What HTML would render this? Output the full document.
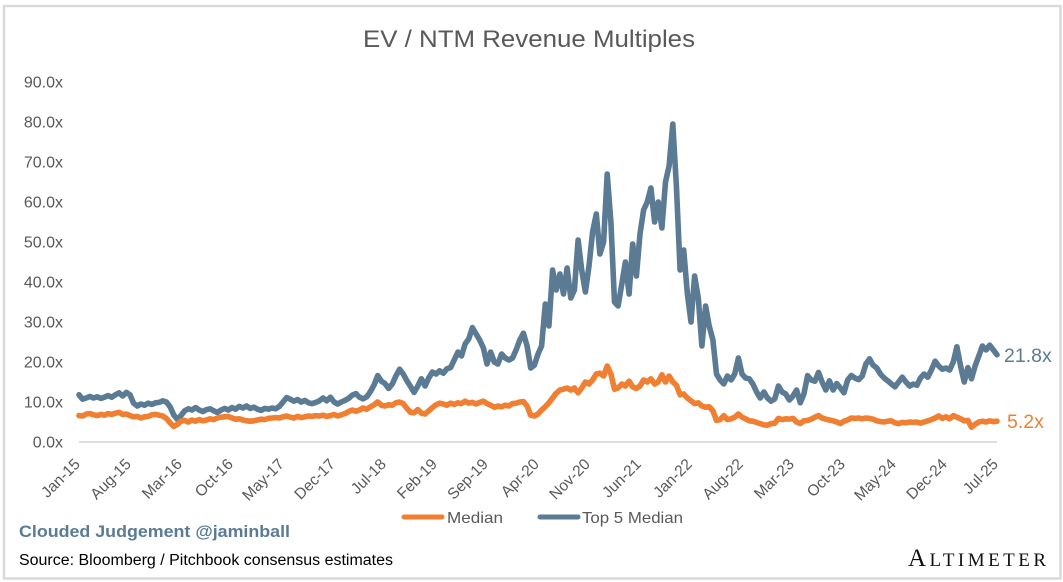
<!DOCTYPE html>
<html lang="en">
<head>
<meta charset="utf-8">
<title>EV / NTM Revenue Multiples</title>
<style>
html,body{margin:0;padding:0;background:#fff;width:1063px;height:582px;overflow:hidden}
svg{display:block}
text{font-family:"Liberation Sans",sans-serif}
</style>
</head>
<body>
<svg id="chart" xmlns="http://www.w3.org/2000/svg" width="1063" height="582" viewBox="0 0 1063 582">
  <rect x="4" y="6" width="1056.5" height="572.5" fill="#fff" stroke="#d9d9d9" stroke-width="2.4"/>
  <text x="529" y="47" text-anchor="middle" font-size="24" fill="#595959" textLength="332" lengthAdjust="spacingAndGlyphs">EV / NTM Revenue Multiples</text>
  <g id="y-axis"></g>
  <g id="x-axis"></g>
  <g id="series"></g>
  <g>
    <g>
      <line x1="404" y1="517" x2="442" y2="517" stroke="#f07f31" stroke-width="5" stroke-linecap="round"/>
      <text x="447" y="523" font-size="16" fill="#595959" textLength="56" lengthAdjust="spacingAndGlyphs">Median</text>
    </g>
    <g>
      <line x1="540" y1="517" x2="578" y2="517" stroke="#5b7b95" stroke-width="5" stroke-linecap="round"/>
      <text x="582" y="523" font-size="16" fill="#595959" textLength="101" lengthAdjust="spacingAndGlyphs">Top 5 Median</text>
    </g>
  </g>
  <text x="19" y="537" font-size="16.5" font-weight="bold" fill="#5b7b95" textLength="271" lengthAdjust="spacingAndGlyphs">Clouded Judgement @jaminball</text>
  <text x="19" y="565" font-size="15.5" fill="#000" textLength="374" lengthAdjust="spacingAndGlyphs">Source: Bloomberg / Pitchbook consensus estimates</text>
  <text x="908" y="566" fill="#111" textLength="138" lengthAdjust="spacing" style="font-family:'Liberation Serif',serif"><tspan font-size="25">A</tspan><tspan font-size="19">LTIMETER</tspan></text>
</svg>
<script>
// Axis tick labels
const yTickValues = [0, 10, 20, 30, 40, 50, 60, 70, 80, 90];
const xTickLabels = ["Jan-15","Aug-15","Mar-16","Oct-16","May-17","Dec-17","Jul-18","Feb-19","Sep-19","Apr-20","Nov-20","Jun-21","Jan-22","Aug-22","Mar-23","Oct-23","May-24","Dec-24","Jul-25"];
const samplesPerTick = 14; // semi-monthly samples, one tick every 7 months

// Semi-monthly samples, Jan-15 to Jul-25
const medianValues = [
/*2015*/ 6.6,6.5,7.0,7.1,6.8,6.6,6.9,6.7,7.1,6.9,7.2,7.4,6.9,7.0,6.6,6.3,6.4,6.0,6.3,6.4,6.8,6.9,6.7,6.5,
/*2016*/ 5.9,4.8,3.9,4.4,5.2,5.4,5.0,5.5,5.2,5.6,5.3,5.5,5.8,5.6,6.0,6.2,6.3,6.4,6.0,5.7,5.8,5.5,5.3,5.2,
/*2017*/ 5.3,5.5,5.7,5.6,5.9,6.0,6.1,6.0,6.3,6.5,6.2,6.0,6.4,6.1,6.3,6.5,6.4,6.6,6.5,6.7,6.4,6.6,6.9,6.5,
/*2018*/ 6.8,7.1,7.6,8.0,7.7,8.0,8.5,8.2,8.8,9.3,10.0,9.2,9.0,9.3,9.2,9.8,10.0,9.6,8.4,7.4,7.3,8.1,7.2,7.0,
/*2019*/ 7.8,8.6,9.3,9.7,9.5,9.2,9.7,9.4,9.8,9.6,10.2,9.7,9.9,9.5,9.9,10.2,9.6,9.2,8.7,9.0,8.8,9.2,9.0,9.6,
/*2020*/ 9.7,10.0,10.1,9.0,6.7,6.5,7.0,8.0,8.8,9.8,11.0,12.2,13.0,13.2,13.5,13.0,13.5,12.3,13.5,15.0,14.5,15.5,17.0,17.2,
/*2021*/ 16.5,19.0,17.0,13.2,13.5,14.5,14.0,15.2,13.8,13.4,14.0,15.5,15.0,15.8,14.5,15.0,16.8,15.0,16.5,15.0,14.2,11.8,12.0,11.0,
/*2022*/ 10.3,9.6,9.8,9.0,8.7,8.8,7.8,5.4,5.6,6.6,5.6,5.8,6.2,7.0,6.2,5.8,5.3,5.2,4.9,4.6,4.3,4.2,4.6,4.7,
/*2023*/ 5.9,5.6,5.8,5.7,5.9,5.0,4.6,5.3,5.4,5.7,6.2,6.6,6.0,5.7,5.5,5.3,5.0,4.6,5.2,5.5,6.0,5.9,6.0,5.8,
/*2024*/ 6.0,5.9,5.7,5.3,5.1,5.0,5.2,5.3,4.8,4.6,4.9,4.8,5.0,4.9,5.0,4.7,5.0,5.3,5.6,6.0,6.5,5.9,6.3,5.8,
/*2025*/ 6.6,6.2,5.8,5.3,5.4,3.7,4.4,5.0,5.2,5.0,5.3,5.1,5.2
];
const top5Values = [
/*2015*/ 11.8,10.7,11.0,11.4,11.0,11.3,10.9,11.2,11.6,11.2,11.8,12.3,11.5,12.4,11.8,9.7,9.0,9.5,9.2,9.7,9.4,9.8,9.9,10.3,
/*2016*/ 10.0,8.8,6.8,5.6,6.6,7.8,8.3,8.0,8.6,8.0,7.6,8.1,8.3,7.8,7.4,8.0,8.4,8.0,8.6,8.2,8.9,8.5,9.0,8.4,
/*2017*/ 8.7,8.2,7.9,8.4,8.2,8.5,8.3,8.9,10.0,11.1,10.7,10.2,10.6,10.0,10.4,9.8,9.6,9.9,10.3,11.0,10.3,11.2,10.0,9.5,
/*2018*/ 10.0,10.4,10.9,11.7,12.1,11.2,10.8,11.3,12.6,14.3,16.6,15.2,14.6,13.4,14.5,16.5,18.2,17.0,15.3,13.9,12.4,14.0,15.8,14.0,
/*2019*/ 16.0,17.5,17.0,17.8,17.2,18.3,18.6,20.5,22.5,21.5,24.5,25.8,28.6,27.0,25.5,23.5,19.5,22.5,20.0,19.5,22.0,21.0,20.5,21.0,
/*2020*/ 23.0,25.5,27.2,24.0,18.5,19.2,22.0,24.0,34.5,29.0,43.0,38.0,42.0,37.0,43.5,36.0,38.0,50.5,43.0,37.5,44.0,52.5,57.0,47.0,
/*2021*/ 50.0,67.0,55.0,35.0,34.0,39.5,45.0,37.0,49.5,41.5,52.0,58.0,60.0,63.5,55.0,60.0,53.5,65.0,69.0,79.5,64.0,43.0,48.0,37.0,
/*2022*/ 30.0,41.5,36.0,24.0,34.0,29.0,25.5,17.0,15.5,14.5,16.5,15.5,17.0,21.0,17.0,16.0,15.8,14.5,12.5,11.0,12.5,11.0,10.2,10.8,
/*2023*/ 14.0,12.5,12.0,10.5,11.5,13.0,9.8,12.0,16.6,15.5,15.2,17.4,15.0,13.0,15.3,13.0,14.6,13.5,12.3,15.5,16.6,16.0,15.6,16.5,
/*2024*/ 19.5,20.8,19.2,18.5,17.0,16.0,15.3,14.5,13.8,15.0,16.2,15.0,14.0,14.5,14.2,16.0,17.0,16.2,18.0,20.2,19.0,18.2,18.5,18.0,
/*2025*/ 20.0,23.8,19.0,15.0,18.6,15.8,19.0,21.5,24.0,23.0,24.2,23.0,21.8
];
const medianEndLabel = "5.2x";
const top5EndLabel = "21.8x";

const NS = "http://www.w3.org/2000/svg";
const plotLeft = 79, plotRight = 997, plotBottom = 442, plotTop = 82;
const yMax = 90;
const xScale = i => plotLeft + (plotRight - plotLeft) * i / (medianValues.length - 1);
const yScale = v => plotBottom - (plotBottom - plotTop) * v / yMax;

const yAxis = document.getElementById("y-axis");
yTickValues.forEach(v => {
  const t = document.createElementNS(NS, "text");
  
  
  t.setAttribute("x", 63);
  t.setAttribute("y", yScale(v) + 5.5);
  t.setAttribute("text-anchor", "end");
  t.setAttribute("font-size", "16");
  t.setAttribute("fill", "#595959");
  t.textContent = v.toFixed(1) + "x";
  yAxis.appendChild(t);
});

const xAxis = document.getElementById("x-axis");
const baseline = document.createElementNS(NS, "line");


baseline.setAttribute("x1", plotLeft);
baseline.setAttribute("x2", plotRight);
baseline.setAttribute("y1", plotBottom);
baseline.setAttribute("y2", plotBottom);
baseline.setAttribute("stroke", "#d9d9d9");
baseline.setAttribute("stroke-width", "1.8");
xAxis.appendChild(baseline);
xTickLabels.forEach((label, k) => {
  const x = xScale(k * samplesPerTick) + 2;
  const y = 465;
  const t = document.createElementNS(NS, "text");
  
  
  t.setAttribute("x", x);
  t.setAttribute("y", y);
  t.setAttribute("text-anchor", "end");
  t.setAttribute("font-size", "15.5");
  t.setAttribute("fill", "#595959");
  t.setAttribute("transform", "rotate(-45 " + x + " " + y + ")");
  t.textContent = label;
  xAxis.appendChild(t);
});

const seriesGroup = document.getElementById("series");
function drawLine(values, color, name) {
  const p = document.createElementNS(NS, "polyline");
  
  
  p.setAttribute("points", values.map((v, i) => xScale(i).toFixed(1) + "," + yScale(v).toFixed(1)).join(" "));
  p.setAttribute("fill", "none");
  p.setAttribute("stroke", color);
  p.setAttribute("stroke-width", "5.6");
  p.setAttribute("stroke-linejoin", "round");
  p.setAttribute("stroke-linecap", "round");
  seriesGroup.appendChild(p);
}
drawLine(top5Values, "#5b7b95", "top-5-median-line");
drawLine(medianValues, "#f07f31", "median-line");

function endLabel(text, value, color, x, name) {
  const t = document.createElementNS(NS, "text");
  
  
  t.setAttribute("x", x);
  t.setAttribute("y", yScale(value) + 7);
  t.setAttribute("font-size", "19.5");
  t.setAttribute("fill", color);
  t.textContent = text;
  seriesGroup.appendChild(t);
}
endLabel(top5EndLabel, top5Values[top5Values.length - 1], "#5b7b95", 1004, "top-5-median-end-label");
endLabel(medianEndLabel, medianValues[medianValues.length - 1], "#f07f31", 1007, "median-end-label");
</script>
</body>
</html>
